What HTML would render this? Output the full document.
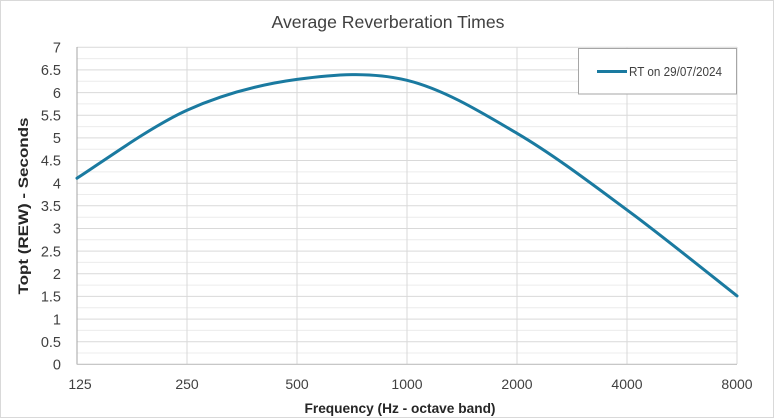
<!DOCTYPE html>
<html>
<head>
<meta charset="utf-8">
<style>
html,body{margin:0;padding:0;background:#fff;}
body{width:776px;height:419px;overflow:hidden;}
svg{display:block;font-family:"Liberation Sans",Arial,sans-serif;}
</style>
</head>
<body>
<svg width="776" height="419" viewBox="0 0 776 419" xmlns="http://www.w3.org/2000/svg">
  <rect x="0" y="0" width="776" height="419" fill="#fff"/>
  <rect x="0.5" y="0.5" width="773" height="417" fill="#fff" stroke="#d9d9d9" stroke-width="1"/>

  <!-- Title -->
  <text x="388" y="28" text-anchor="middle" font-size="17.5" fill="#404040" textLength="233" lengthAdjust="spacingAndGlyphs">Average Reverberation Times</text>

  <!-- minor horizontal grid (0.25 steps) -->
  <g stroke="#ececec" stroke-width="1">
    <line x1="77" x2="737" y1="58.6" y2="58.6"/>
    <line x1="77" x2="737" y1="81.3" y2="81.3"/>
    <line x1="77" x2="737" y1="103.9" y2="103.9"/>
    <line x1="77" x2="737" y1="126.6" y2="126.6"/>
    <line x1="77" x2="737" y1="149.2" y2="149.2"/>
    <line x1="77" x2="737" y1="171.9" y2="171.9"/>
    <line x1="77" x2="737" y1="194.5" y2="194.5"/>
    <line x1="77" x2="737" y1="217.2" y2="217.2"/>
    <line x1="77" x2="737" y1="239.8" y2="239.8"/>
    <line x1="77" x2="737" y1="262.4" y2="262.4"/>
    <line x1="77" x2="737" y1="285.1" y2="285.1"/>
    <line x1="77" x2="737" y1="307.7" y2="307.7"/>
    <line x1="77" x2="737" y1="330.4" y2="330.4"/>
    <line x1="77" x2="737" y1="353.0" y2="353.0"/>
  </g>
  <!-- major horizontal grid (0.5 steps) -->
  <g stroke="#d9d9d9" stroke-width="1">
    <line x1="77" x2="737" y1="47.3" y2="47.3"/>
    <line x1="77" x2="737" y1="69.9" y2="69.9"/>
    <line x1="77" x2="737" y1="92.6" y2="92.6"/>
    <line x1="77" x2="737" y1="115.2" y2="115.2"/>
    <line x1="77" x2="737" y1="137.9" y2="137.9"/>
    <line x1="77" x2="737" y1="160.5" y2="160.5"/>
    <line x1="77" x2="737" y1="183.2" y2="183.2"/>
    <line x1="77" x2="737" y1="205.8" y2="205.8"/>
    <line x1="77" x2="737" y1="228.5" y2="228.5"/>
    <line x1="77" x2="737" y1="251.1" y2="251.1"/>
    <line x1="77" x2="737" y1="273.8" y2="273.8"/>
    <line x1="77" x2="737" y1="296.4" y2="296.4"/>
    <line x1="77" x2="737" y1="319.1" y2="319.1"/>
    <line x1="77" x2="737" y1="341.7" y2="341.7"/>
  </g>
  <!-- vertical grid -->
  <g stroke="#d9d9d9" stroke-width="1">
    <line x1="187" x2="187" y1="47" y2="364"/>
    <line x1="297" x2="297" y1="47" y2="364"/>
    <line x1="407" x2="407" y1="47" y2="364"/>
    <line x1="517" x2="517" y1="47" y2="364"/>
    <line x1="627" x2="627" y1="47" y2="364"/>
    <line x1="737" x2="737" y1="47" y2="364"/>
  </g>
  <!-- axes -->
  <line x1="77" x2="77" y1="47" y2="364.5" stroke="#a6a6a6" stroke-width="1"/>
  <line x1="77" x2="737" y1="364.3" y2="364.3" stroke="#bfbfbf" stroke-width="1.2"/>

  <!-- y tick labels -->
  <g font-size="14.5" fill="#404040" text-anchor="end">
    <text x="61" y="52.5">7</text>
    <text x="61" y="75.1">6.5</text>
    <text x="61" y="97.8">6</text>
    <text x="61" y="120.4">5.5</text>
    <text x="61" y="143.1">5</text>
    <text x="61" y="165.7">4.5</text>
    <text x="61" y="188.4">4</text>
    <text x="61" y="211">3.5</text>
    <text x="61" y="233.7">3</text>
    <text x="61" y="256.3">2.5</text>
    <text x="61" y="279">2</text>
    <text x="61" y="301.6">1.5</text>
    <text x="61" y="324.3">1</text>
    <text x="61" y="346.9">0.5</text>
    <text x="61" y="369.5">0</text>
  </g>

  <!-- x tick labels -->
  <g font-size="14" fill="#404040" text-anchor="middle">
    <text x="80" y="389">125</text>
    <text x="187" y="389">250</text>
    <text x="297" y="389">500</text>
    <text x="407" y="389">1000</text>
    <text x="517" y="389">2000</text>
    <text x="627" y="389">4000</text>
    <text x="737" y="389">8000</text>
  </g>

  <!-- axis titles -->
  <text x="400" y="413" text-anchor="middle" font-size="14" font-weight="bold" fill="#262626" textLength="191" lengthAdjust="spacingAndGlyphs">Frequency (Hz - octave band)</text>
  <text transform="translate(28,206) rotate(-90)" text-anchor="middle" font-size="14" font-weight="bold" fill="#262626" textLength="177" lengthAdjust="spacingAndGlyphs">Topt (REW) - Seconds</text>

  <!-- series -->
  <path d="M77,178.2 C95.33,166.87 150.33,126.67 187,110.2 C223.67,93.73 260.33,84.38 297,79.4 C333.67,74.42 370.33,71.32 407,80.3 C443.67,89.28 480.33,111.7 517,133.3 C553.67,154.9 590.33,182.8 627,209.9 C663.67,237.0 718.67,281.57 737,295.9"
        fill="none" stroke="#1a7aa0" stroke-width="3" stroke-linejoin="round" stroke-linecap="round"/>

  <!-- legend -->
  <rect x="578.5" y="48.5" width="158" height="45.5" fill="#fff" stroke="#a6a6a6" stroke-width="1"/>
  <line x1="597" x2="627" y1="71.5" y2="71.5" stroke="#1a7aa0" stroke-width="3"/>
  <text x="629" y="76" font-size="12.5" fill="#404040" textLength="93" lengthAdjust="spacingAndGlyphs">RT on 29/07/2024</text>
</svg>
</body>
</html>
